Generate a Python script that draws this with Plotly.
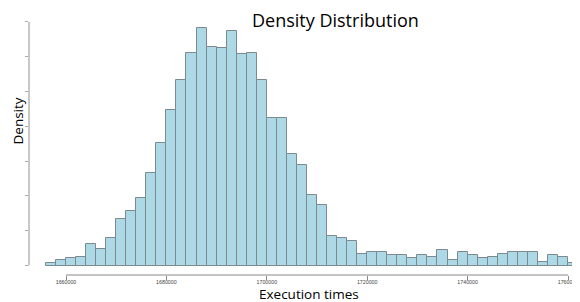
import plotly.graph_objects as go

# Histogram data (density per 2000-unit bin)
bin_start = 1656000
bin_width = 2000
density_e6 = [0.29, 0.86, 1.01, 1.15, 3.02, 2.44, 3.88, 6.61, 7.90, 9.63,
              13.22, 17.67, 22.27, 26.72, 30.60, 34.05, 31.32, 31.18, 33.76, 30.32,
              30.60, 26.72, 21.12, 21.12, 16.09, 14.37, 10.20, 8.76, 4.17, 3.88,
              3.59, 1.72, 1.87, 1.87, 1.44, 1.44, 1.01, 1.58, 1.15, 2.16,
              0.86, 2.01, 1.44, 1.01, 1.15, 1.72, 2.01, 1.87, 1.87, 0.57,
              1.58, 1.15, 0.43, 0.14]
density = [d * 1e-6 for d in density_e6]
centers = [bin_start + bin_width * (i + 0.5) for i in range(len(density))]

x_ticks = [1660000, 1680000, 1700000, 1720000, 1740000, 1760000]
x_tick_labels = ["1660000", "1680000", "1700000", "1720000", "1740000", "1760000"]
y_ticks = [0, 5e-6, 1e-5, 1.5e-5, 2e-5, 2.5e-5, 3e-5, 3.5e-5]

fig = go.Figure()
fig.add_trace(go.Bar(
    x=centers, y=density, width=bin_width,
    marker=dict(color="#ADD8E6", line=dict(color="#7c8a90", width=1)),
    hoverinfo="skip",
))

fig.update_layout(
    width=572, height=294,
    margin=dict(l=21, r=0, t=12, b=27),
    plot_bgcolor="white", paper_bgcolor="white",
    showlegend=False,
    bargap=0,
    xaxis=dict(range=[1652629, 1762390], showgrid=False, zeroline=False,
               showline=False, ticks="outside", ticklen=4, tickwidth=1,
               tickcolor="#888888", tickvals=x_ticks, ticktext=x_tick_labels,
               ticklabelstandoff=-2, ticklabeloverflow="allow",
               tickfont=dict(size=5.3, color="#444444", family="Liberation Sans")),
    yaxis=dict(range=[-1.365e-6, 3.527e-5], showgrid=False, zeroline=False,
               showline=False, ticks="outside", ticklen=3, tickwidth=1,
               tickcolor="#aaaaaa", tickvals=y_ticks, showticklabels=False),
    shapes=[
        dict(type="line", xref="x", yref="paper", x0=x_ticks[0], x1=x_ticks[-1],
             y0=0, y1=0, line=dict(color="#888888", width=1)),
        dict(type="line", xref="paper", yref="y", x0=0, x1=0,
             y0=y_ticks[0], y1=y_ticks[-1], line=dict(color="#c8c8c8", width=2)),
    ],
    annotations=[
        dict(text="Density Distribution", xref="paper", yref="paper",
             x=0.557, y=1.0, xanchor="center", yanchor="middle", showarrow=False,
             font=dict(size=18, color="black", family="Open Sans")),
        dict(text="Execution times", xref="paper", yref="paper",
             x=0.508, y=-0.0745, xanchor="center", yanchor="middle", showarrow=False,
             font=dict(size=13.5, color="black", family="Open Sans")),
        dict(text="Density", xref="paper", yref="paper", textangle=-90,
             x=-0.0209, y=0.604, xanchor="center", yanchor="middle", showarrow=False,
             font=dict(size=13.5, color="black", family="Open Sans")),
    ],
)

fig.write_html("out.html", post_script="document.body.style.overflow='hidden';")
